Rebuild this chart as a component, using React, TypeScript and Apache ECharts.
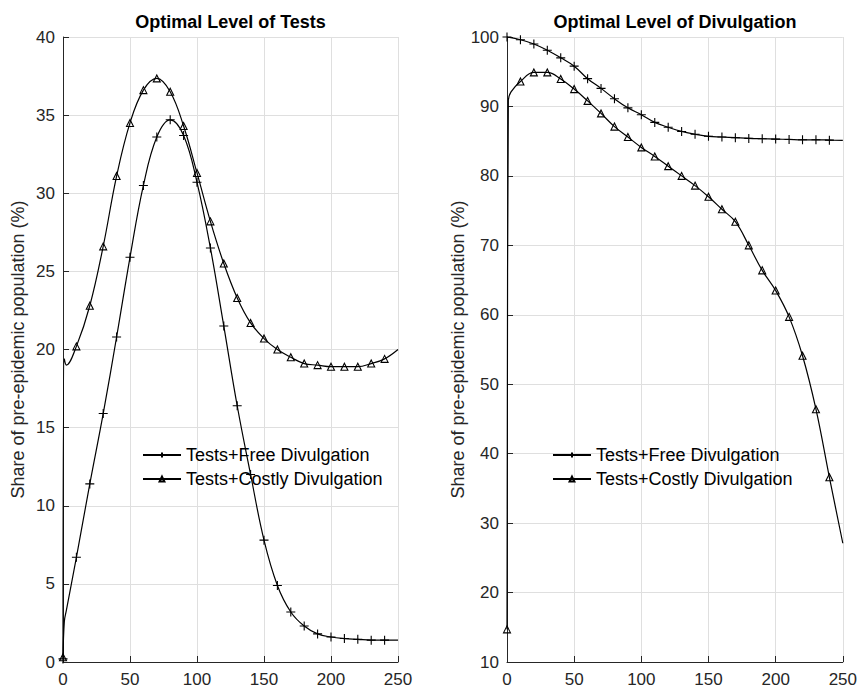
import React, { useEffect, useRef } from 'react';
import * as echarts from 'echarts';

// Days (x) at which the markers are drawn; last point (250) is a line end without a marker
const DAYS = [0, 10, 20, 30, 40, 50, 60, 70, 80, 90, 100, 110, 120, 130, 140, 150, 160, 170, 180, 190, 200, 210, 220, 230, 240, 250];

// Left panel: Optimal Level of Tests (%)
const TESTS_FREE = [0.2, 6.7, 11.4, 15.9, 20.8, 25.9, 30.5, 33.6, 34.7, 33.7, 30.7, 26.5, 21.5, 16.4, 12.0, 7.8, 4.9, 3.2, 2.3, 1.8, 1.6, 1.5, 1.45, 1.4, 1.4, 1.4];
const TESTS_COSTLY = [0.3, 20.2, 22.8, 26.6, 31.1, 34.5, 36.6, 37.35, 36.5, 34.3, 31.3, 28.2, 25.5, 23.3, 21.7, 20.7, 20.0, 19.5, 19.1, 19.0, 18.9, 18.9, 18.9, 19.1, 19.4, 20.0];
// early points between day 0 and day 10 (no markers)
const TESTS_FREE_EARLY_X = [1, 2.5];
const TESTS_FREE_EARLY_Y = [2.6, 3.3];
const TESTS_COSTLY_EARLY_X = [1, 2.5];
const TESTS_COSTLY_EARLY_Y = [19.4, 19.0];

// Right panel: Optimal Level of Divulgation (%)
const DIV_FREE = [100, 99.6, 99.0, 98.1, 97.0, 95.8, 94.0, 92.6, 91.1, 89.8, 88.8, 87.7, 87.0, 86.4, 86.0, 85.7, 85.6, 85.5, 85.4, 85.35, 85.3, 85.25, 85.2, 85.2, 85.15, 85.1];
const DIV_COSTLY = [14.7, 93.6, 94.9, 94.9, 93.95, 92.5, 90.8, 89.0, 87.1, 85.6, 84.1, 82.8, 81.4, 80.0, 78.6, 77.0, 75.2, 73.4, 70.0, 66.4, 63.5, 59.7, 54.1, 46.4, 36.6, 27.1];
const DIV_FREE_EARLY_X: number[] = [];
const DIV_FREE_EARLY_Y: number[] = [];
const DIV_COSTLY_EARLY_X = [1, 3];
const DIV_COSTLY_EARLY_Y = [90.9, 92.1];

const NAME_FREE = 'Tests+Free Divulgation';
const NAME_COSTLY = 'Tests+Costly Divulgation';
const TITLES = ['Optimal Level of Tests', 'Optimal Level of Divulgation'];
const Y_NAME = 'Share of pre-epidemic population (%)';

const FONT = '"Liberation Sans", Arial, Helvetica, sans-serif';
const TEXT = '#262626';
const PLUS = 'path://M5,0L5,10M0,5L10,5';

function buildData(values: number[], earlyX: number[], earlyY: number[]) {
  const out: any[] = [];
  values.forEach((v, i) => {
    const x = DAYS[i];
    if (i === DAYS.length - 1) out.push({ value: [x, v], symbol: 'none' });
    else out.push([x, v]);
    if (i === 0) {
      earlyX.forEach((ex, j) => out.push({ value: [ex, earlyY[j]], symbol: 'none' }));
    }
  });
  return out;
}

function makeSeries(name: string, idx: number, data: any[], plus: boolean) {
  return {
    type: 'line',
    name,
    xAxisIndex: idx,
    yAxisIndex: idx,
    data,
    smooth: 0.4,
    showAllSymbol: true,
    symbol: plus ? PLUS : 'triangle',
    symbolSize: plus ? 9 : 7,
    lineStyle: { color: '#000', width: 1.2 },
    itemStyle: { color: 'rgba(0,0,0,0)', borderColor: '#000', borderWidth: 1.1 },
    emphasis: { disabled: true },
  };
}

function axisCommon() {
  return {
    axisLine: { show: true, onZero: false, lineStyle: { color: TEXT, width: 1 } },
    axisTick: { show: true, inside: true, length: 6, lineStyle: { color: TEXT } },
    splitLine: { show: true, lineStyle: { color: '#dfdfdf', width: 1 } },
    axisLabel: { color: TEXT, fontSize: 17, fontFamily: FONT },
  };
}

export default function App() {
  const ref = useRef<HTMLDivElement>(null);
  useEffect(() => {
    if (!ref.current) return;
    const chart = echarts.init(ref.current, null, { renderer: 'svg' });
    const grids = [
      { left: 63, top: 37, width: 335, height: 625 },
      { left: 507, top: 37, width: 336, height: 625 },
    ];
    const xAxes = [0, 1].map((i) => ({
      type: 'value',
      gridIndex: i,
      min: 0,
      max: 250,
      interval: 50,
      ...axisCommon(),
      axisLabel: { ...axisCommon().axisLabel, margin: 9 },
    }));
    const yAxes = [
      { type: 'value', gridIndex: 0, min: 0, max: 40, interval: 5 },
      { type: 'value', gridIndex: 1, min: 10, max: 100, interval: 10 },
    ].map((a) => ({
      ...a,
      ...axisCommon(),
      axisLabel: { ...axisCommon().axisLabel, margin: 8 },
      name: Y_NAME,
      nameLocation: 'middle',
      nameGap: 36,
      nameRotate: 90,
      nameTextStyle: { color: TEXT, fontSize: 18, fontFamily: FONT },
    }));
    const legendBase = {
      data: [NAME_FREE, NAME_COSTLY],
      orient: 'vertical',
      top: 445,
      itemWidth: 38,
      itemHeight: 6,
      itemGap: 4,
      padding: 0,
      selectedMode: false,
      textStyle: { color: '#000', fontSize: 18, fontFamily: FONT, lineHeight: 20 },
    };
    const option: any = {
      animation: false,
      backgroundColor: '#fff',
      grid: grids,
      xAxis: xAxes,
      yAxis: yAxes,
      legend: [
        { ...legendBase, left: 142 },
        { ...legendBase, left: 552 },
      ],
      graphic: [0, 1].map((i) => ({
        type: 'text',
        x: grids[i].left + grids[i].width / 2,
        y: 22,
        style: {
          text: TITLES[i],
          fill: '#000',
          fontSize: 18,
          fontWeight: 'bold',
          fontFamily: FONT,
          align: 'center',
          verticalAlign: 'middle',
        },
      })),
      series: [
        makeSeries(NAME_FREE, 0, buildData(TESTS_FREE, TESTS_FREE_EARLY_X, TESTS_FREE_EARLY_Y), true),
        makeSeries(NAME_COSTLY, 0, buildData(TESTS_COSTLY, TESTS_COSTLY_EARLY_X, TESTS_COSTLY_EARLY_Y), false),
        makeSeries(NAME_FREE, 1, buildData(DIV_FREE, DIV_FREE_EARLY_X, DIV_FREE_EARLY_Y), true),
        makeSeries(NAME_COSTLY, 1, buildData(DIV_COSTLY, DIV_COSTLY_EARLY_X, DIV_COSTLY_EARLY_Y), false),
      ],
    };
    chart.setOption(option);
    return () => chart.dispose();
  }, []);
  return (
    <div
      ref={ref}
      style={{ position: 'fixed', left: 0, top: 0, width: 860, height: 692, background: '#fff' }}
    />
  );
}
